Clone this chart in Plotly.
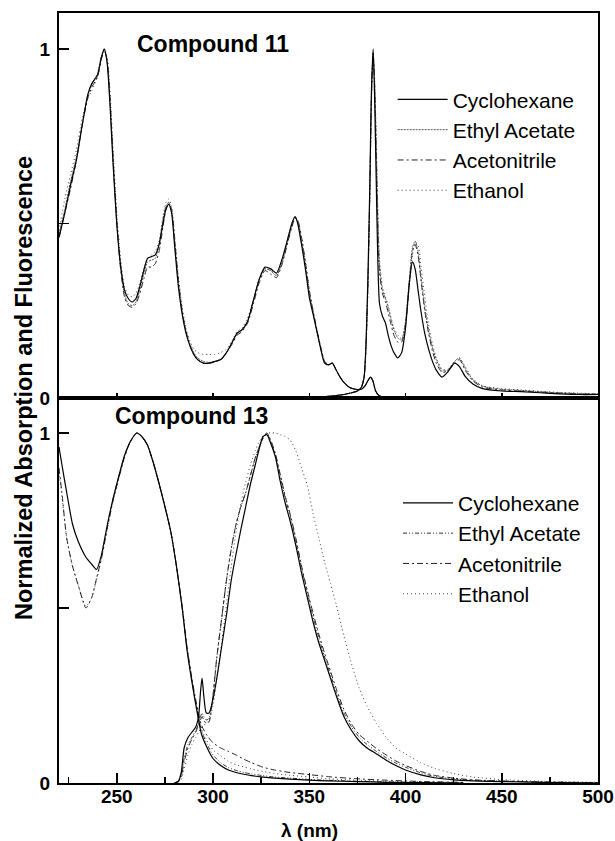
import plotly.graph_objects as go

# ---------------- data: Compound 11 ----------------
solvents = ["Cyclohexane", "Ethyl Acetate", "Acetonitrile", "Ethanol"]

c11_abs_wl = [220, 223, 226, 229, 232, 235, 237, 240, 242, 243.5, 245, 246.5, 248, 250, 252, 254, 256, 258,
              260, 262, 264, 266, 268, 270, 272, 274, 275.5, 277, 278.5, 280, 282, 284, 286, 288, 290, 292,
              295, 298, 301, 304, 307, 310, 312.5, 315, 318, 321, 324, 327, 330, 333, 336, 339, 341, 342.6,
              344, 346, 348, 350, 352, 354, 356, 358, 360, 362, 364, 366, 368, 371, 374, 377, 379, 380.5,
              381.8, 383, 384.5, 386, 388, 390]
c11_abs_cyc = [0.46, 0.53, 0.61, 0.68, 0.78, 0.87, 0.90, 0.925, 0.975, 1.0, 0.96, 0.84, 0.68, 0.50, 0.38, 0.31, 0.285, 0.275,
               0.285, 0.32, 0.365, 0.40, 0.405, 0.41, 0.44, 0.50, 0.54, 0.555, 0.53, 0.44, 0.32, 0.24, 0.185, 0.15, 0.125, 0.11,
               0.10, 0.10, 0.105, 0.11, 0.13, 0.16, 0.186, 0.195, 0.22, 0.28, 0.34, 0.375, 0.37, 0.358, 0.40, 0.46, 0.50, 0.52,
               0.50, 0.44, 0.37, 0.29, 0.24, 0.19, 0.14, 0.10, 0.095, 0.10, 0.08, 0.06, 0.045, 0.03, 0.025, 0.025, 0.035, 0.05,
               0.06, 0.05, 0.02, 0.008, 0.003, 0.0]
c11_abs_eta = [0.47, 0.54, 0.62, 0.69, 0.78, 0.87, 0.90, 0.93, 0.98, 1.0, 0.965, 0.85, 0.69, 0.50, 0.37, 0.30, 0.27, 0.265,
               0.275, 0.31, 0.355, 0.39, 0.395, 0.40, 0.44, 0.51, 0.55, 0.56, 0.535, 0.45, 0.33, 0.245, 0.19, 0.155, 0.13, 0.115,
               0.105, 0.102, 0.105, 0.11, 0.13, 0.16, 0.185, 0.195, 0.22, 0.28, 0.34, 0.37, 0.365, 0.35, 0.39, 0.46, 0.50, 0.52,
               0.505, 0.45, 0.38, 0.30, 0.245, 0.19, 0.14, 0.10, 0.095, 0.10, 0.08, 0.06, 0.045, 0.03, 0.025, 0.025, 0.035, 0.05,
               0.06, 0.05, 0.02, 0.008, 0.003, 0.0]
c11_abs_acn = [0.46, 0.53, 0.60, 0.68, 0.78, 0.86, 0.89, 0.92, 0.97, 0.995, 0.97, 0.86, 0.70, 0.51, 0.37, 0.29, 0.265, 0.26,
               0.27, 0.30, 0.34, 0.375, 0.375, 0.385, 0.42, 0.49, 0.54, 0.56, 0.54, 0.46, 0.34, 0.25, 0.19, 0.15, 0.125, 0.11,
               0.10, 0.10, 0.103, 0.11, 0.13, 0.155, 0.18, 0.19, 0.215, 0.27, 0.33, 0.365, 0.355, 0.345, 0.385, 0.45, 0.49, 0.515,
               0.51, 0.46, 0.39, 0.31, 0.25, 0.195, 0.145, 0.105, 0.095, 0.10, 0.08, 0.06, 0.045, 0.03, 0.025, 0.025, 0.035, 0.05,
               0.06, 0.05, 0.02, 0.008, 0.003, 0.0]
c11_abs_eth = [0.48, 0.57, 0.64, 0.71, 0.80, 0.86, 0.88, 0.92, 0.97, 0.99, 0.975, 0.88, 0.72, 0.53, 0.40, 0.32, 0.295, 0.29,
               0.30, 0.33, 0.37, 0.40, 0.41, 0.42, 0.45, 0.52, 0.56, 0.57, 0.55, 0.47, 0.35, 0.26, 0.20, 0.165, 0.14, 0.13,
               0.125, 0.125, 0.125, 0.13, 0.14, 0.165, 0.19, 0.20, 0.23, 0.28, 0.34, 0.37, 0.365, 0.355, 0.39, 0.45, 0.49, 0.515,
               0.51, 0.46, 0.39, 0.31, 0.25, 0.195, 0.145, 0.105, 0.095, 0.10, 0.08, 0.06, 0.045, 0.03, 0.025, 0.025, 0.035, 0.05,
               0.06, 0.05, 0.02, 0.008, 0.003, 0.0]

c11_em_wl = [350, 360, 368, 372, 375, 377, 378.5, 379.5, 380.5, 381.5, 382.3, 383.2, 384, 384.8, 385.6, 386.5, 388,
             389.6, 391, 392.5, 394, 396, 398, 400, 402, 403.6, 405, 406.5, 408, 410, 412, 414, 416, 419, 422, 425.5,
             428, 431, 435, 440, 450, 460, 470, 480, 490, 500]
c11_em_cyc = [0.0, 0.005, 0.01, 0.015, 0.02, 0.03, 0.06, 0.16, 0.35, 0.62, 0.88, 1.0, 0.85, 0.62, 0.40, 0.27, 0.235,
              0.215, 0.18, 0.15, 0.13, 0.115, 0.13, 0.20, 0.33, 0.39, 0.37, 0.31, 0.25, 0.185, 0.14, 0.105, 0.08, 0.06, 0.075, 0.10,
              0.09, 0.062, 0.04, 0.027, 0.02, 0.018, 0.015, 0.012, 0.01, 0.01]
c11_em_eta = [0.0, 0.005, 0.01, 0.015, 0.02, 0.03, 0.06, 0.15, 0.33, 0.60, 0.86, 0.99, 0.90, 0.72, 0.52, 0.38, 0.31,
              0.285, 0.26, 0.225, 0.195, 0.172, 0.166, 0.22, 0.34, 0.43, 0.45, 0.42, 0.35, 0.26, 0.195, 0.145, 0.11, 0.078, 0.08, 0.105,
              0.115, 0.085, 0.052, 0.034, 0.025, 0.022, 0.018, 0.015, 0.013, 0.012]
c11_em_acn = [0.0, 0.005, 0.01, 0.015, 0.02, 0.03, 0.06, 0.15, 0.33, 0.60, 0.86, 0.99, 0.89, 0.70, 0.50, 0.36, 0.30,
              0.275, 0.245, 0.21, 0.18, 0.16, 0.16, 0.21, 0.33, 0.42, 0.44, 0.41, 0.34, 0.25, 0.185, 0.135, 0.10, 0.073, 0.078, 0.10,
              0.11, 0.08, 0.049, 0.031, 0.023, 0.02, 0.017, 0.014, 0.012, 0.011]
c11_em_eth = [0.0, 0.005, 0.01, 0.015, 0.02, 0.03, 0.06, 0.14, 0.31, 0.58, 0.84, 0.98, 0.91, 0.74, 0.55, 0.40, 0.32,
              0.29, 0.265, 0.23, 0.20, 0.18, 0.17, 0.21, 0.32, 0.41, 0.445, 0.44, 0.38, 0.29, 0.21, 0.155, 0.115, 0.082, 0.083, 0.105,
              0.115, 0.09, 0.055, 0.035, 0.027, 0.023, 0.019, 0.016, 0.014, 0.012]

# ---------------- data: Compound 13 ----------------
c13_abs_wl = [220, 221.5, 224, 227, 230, 234, 237, 239.5, 242, 245, 248, 251, 254, 257, 260.4, 263, 266, 269, 272,
              275, 278, 281, 284, 286.5, 289, 291.5, 294, 297, 300, 304, 308, 312, 316, 320, 326, 332, 340, 350, 360,
              375, 390, 410, 430]
c13_abs_cyc = [0.96, 0.91, 0.83, 0.74, 0.69, 0.645, 0.625, 0.61, 0.65, 0.735, 0.81, 0.875, 0.935, 0.975, 1.0, 0.99, 0.965, 0.915, 0.855,
               0.79, 0.72, 0.62, 0.50, 0.38, 0.29, 0.21, 0.14, 0.10, 0.07, 0.05, 0.037, 0.03, 0.025, 0.021, 0.017, 0.014, 0.011, 0.008, 0.006,
               0.004, 0.002, 0.001, 0.0]
c13_abs_eta = [None, None, None, None, None, None, None, None, None, None, 0.81, 0.875, 0.935, 0.975, 1.0, 0.99, 0.965, 0.915, 0.855,
               0.79, 0.72, 0.62, 0.50, 0.385, 0.295, 0.215, 0.15, 0.11, 0.08, 0.058, 0.044, 0.036, 0.03, 0.026, 0.021, 0.017, 0.014, 0.01, 0.008,
               0.005, 0.003, 0.002, 0.001]
c13_abs_acn = [0.90, 0.83, 0.70, 0.62, 0.565, 0.50, 0.53, 0.585, 0.64, 0.725, 0.805, 0.87, 0.93, 0.975, 1.0, 0.99, 0.965, 0.915, 0.855,
               0.79, 0.72, 0.62, 0.505, 0.39, 0.30, 0.225, 0.165, 0.135, 0.115, 0.10, 0.09, 0.08, 0.068, 0.058, 0.045, 0.037, 0.03, 0.024, 0.018,
               0.012, 0.008, 0.004, 0.002]
c13_abs_eth = [0.89, 0.82, 0.70, 0.62, 0.565, 0.505, 0.53, 0.58, 0.64, 0.725, 0.805, 0.87, 0.93, 0.975, 1.0, 0.99, 0.965, 0.915, 0.855,
               0.79, 0.72, 0.62, 0.50, 0.385, 0.295, 0.215, 0.155, 0.12, 0.095, 0.078, 0.062, 0.052, 0.046, 0.04, 0.033, 0.027, 0.022, 0.017, 0.012,
               0.008, 0.005, 0.003, 0.001]

c13_em_wl = [280, 282, 283.5, 285, 287, 289, 291, 292.5, 293.5, 294.3, 295.2, 296.5, 298, 300, 302, 304.5, 307, 309.5,
             312, 314.5, 317, 319.5, 322, 324, 326, 328, 330, 332.5, 335, 337.5, 340, 343, 346, 349, 352, 355, 358, 361,
             364, 368, 372, 376, 380, 385, 390, 395, 400, 408, 415, 425, 435, 450, 470, 500]
c13_em_cyc = [0.0, 0.005, 0.03, 0.10, 0.13, 0.145, 0.16, 0.19, 0.26, 0.30, 0.25, 0.20, 0.20, 0.24, 0.30, 0.39, 0.48, 0.58,
              0.655, 0.725, 0.79, 0.855, 0.91, 0.955, 0.99, 0.995, 0.97, 0.93, 0.86, 0.80, 0.75, 0.68, 0.60, 0.53, 0.46, 0.40, 0.35, 0.30,
              0.25, 0.19, 0.15, 0.12, 0.10, 0.083, 0.065, 0.05, 0.037, 0.023, 0.015, 0.009, 0.006, 0.004, 0.002, 0.0]
c13_em_eta = [0.0, 0.005, 0.02, 0.07, 0.11, 0.13, 0.15, 0.17, 0.19, 0.20, 0.19, 0.18, 0.185, 0.25, 0.36, 0.47, 0.58, 0.67,
              0.74, 0.79, 0.83, 0.88, 0.93, 0.96, 0.985, 1.0, 0.975, 0.935, 0.875, 0.815, 0.765, 0.695, 0.615, 0.545, 0.475, 0.415, 0.36, 0.31,
              0.26, 0.20, 0.16, 0.13, 0.11, 0.09, 0.072, 0.057, 0.045, 0.029, 0.019, 0.012, 0.008, 0.005, 0.003, 0.001]
c13_em_acn = [0.0, 0.005, 0.02, 0.06, 0.10, 0.125, 0.145, 0.165, 0.18, 0.19, 0.18, 0.17, 0.175, 0.25, 0.36, 0.47, 0.58, 0.67,
              0.74, 0.79, 0.83, 0.88, 0.93, 0.96, 0.985, 1.0, 0.98, 0.94, 0.88, 0.82, 0.77, 0.70, 0.62, 0.55, 0.485, 0.425, 0.37, 0.32,
              0.27, 0.21, 0.168, 0.138, 0.12, 0.098, 0.08, 0.063, 0.05, 0.033, 0.022, 0.014, 0.009, 0.006, 0.003, 0.001]
c13_em_eth = [0.0, 0.003, 0.01, 0.04, 0.08, 0.11, 0.13, 0.145, 0.155, 0.16, 0.165, 0.17, 0.18, 0.22, 0.30, 0.40, 0.51, 0.62,
              0.72, 0.80, 0.86, 0.91, 0.95, 0.975, 0.99, 1.0, 1.0, 1.0, 0.995, 0.99, 0.98, 0.95, 0.90, 0.85, 0.77, 0.70, 0.63, 0.57,
              0.51, 0.42, 0.34, 0.27, 0.22, 0.17, 0.13, 0.10, 0.083, 0.058, 0.042, 0.027, 0.017, 0.01, 0.005, 0.002]

x_tick_vals = [250, 300, 350, 400, 450, 500]
x_tick_text = ["250", "300", "350", "400", "450", "500"]
x_minor_vals = [225, 275, 325, 375, 425, 475]
y_tick_vals = [0, 0.5, 1]
y_tick_text = ["0", "", "1"]

# ---------------- styles ----------------
styles = {
    "Cyclohexane": dict(color="#000000", width=1.2, dash="solid"),
    "Ethyl Acetate": dict(color="#555555", width=1.0, dash="2px,1px"),
    "Acetonitrile": dict(color="#222222", width=1.0, dash="6px,3px,2px,3px"),
    "Ethanol": dict(color="#444444", width=1.0, dash="1px,3px"),
}
styles13 = dict(styles)
styles13["Ethyl Acetate"] = dict(color="#333333", width=1.0, dash="4px,2px,1px,2px,1px,2px")
ranks = {"Cyclohexane": 1, "Ethyl Acetate": 2, "Acetonitrile": 3, "Ethanol": 4}

FONT = "Liberation Sans, Arial, sans-serif"

fig = go.Figure()

top_sets = [
    ("Cyclohexane", c11_abs_cyc, c11_em_cyc),
    ("Ethyl Acetate", c11_abs_eta, c11_em_eta),
    ("Acetonitrile", c11_abs_acn, c11_em_acn),
    ("Ethanol", c11_abs_eth, c11_em_eth),
]
bot_sets = [
    ("Cyclohexane", c13_abs_cyc, c13_em_cyc),
    ("Ethyl Acetate", c13_abs_eta, c13_em_eta),
    ("Acetonitrile", c13_abs_acn, c13_em_acn),
    ("Ethanol", c13_abs_eth, c13_em_eth),
]

for name, ab, em in reversed(top_sets):
    st = styles[name]
    fig.add_trace(go.Scatter(x=c11_abs_wl, y=ab, mode="lines", line=dict(shape="spline", smoothing=0.6, **st),
                             name=name, legend="legend", legendgroup="t" + name, showlegend=True,
                             legendrank=ranks[name], xaxis="x", yaxis="y"))
    fig.add_trace(go.Scatter(x=c11_em_wl, y=em, mode="lines", line=dict(shape="spline", smoothing=0.6, **st),
                             name=name, legendgroup="t" + name, showlegend=False, xaxis="x", yaxis="y"))

for name, ab, em in reversed(bot_sets):
    st = styles13[name]
    fig.add_trace(go.Scatter(x=c13_abs_wl, y=ab, mode="lines", line=dict(shape="spline", smoothing=0.6, **st),
                             name=name, legend="legend2", legendgroup="b" + name, showlegend=True,
                             legendrank=ranks[name], xaxis="x2", yaxis="y2"))
    fig.add_trace(go.Scatter(x=c13_em_wl, y=em, mode="lines", line=dict(shape="spline", smoothing=0.6, **st),
                             name=name, legendgroup="b" + name, showlegend=False, xaxis="x2", yaxis="y2"))

axis_common = dict(showline=True, linecolor="black", linewidth=2, mirror=True, showgrid=False, zeroline=False)
tick_font = dict(family=FONT, size=19, color="black", weight="bold")

fig.update_layout(
    width=615, height=841,
    margin=dict(l=59, r=17, t=13, b=58, autoexpand=False),
    paper_bgcolor="white", plot_bgcolor="white",
    font=dict(family=FONT, color="black"),
    hovermode=False,
    xaxis=dict(domain=[0, 1], range=[220, 500], anchor="y", tickvals=x_tick_vals, showticklabels=False,
               ticks="inside", ticklen=5, tickwidth=1.5, tickcolor="black", **axis_common),
    yaxis=dict(domain=[0.5, 1], range=[0, 1.103], anchor="x", tickvals=y_tick_vals, ticktext=y_tick_text,
               ticks="inside", ticklen=10, tickwidth=1.5, tickcolor="black", tickfont=tick_font,
               ticklabelstandoff=3, **axis_common),
    xaxis2=dict(domain=[0, 1], range=[220, 500], anchor="y2", tickvals=x_tick_vals, ticktext=x_tick_text,
                ticks="inside", ticklen=10, tickwidth=1.5, tickcolor="black", tickfont=tick_font,
                ticklabelstandoff=-5,
                minor=dict(tickvals=x_minor_vals, ticks="inside", ticklen=6, tickwidth=1.5, tickcolor="black"),
                **axis_common),
    yaxis2=dict(domain=[0, 0.5], range=[0, 1.1], anchor="x2", tickvals=y_tick_vals, ticktext=y_tick_text,
                ticks="inside", ticklen=10, tickwidth=1.5, tickcolor="black", tickfont=tick_font,
                ticklabelstandoff=3, **axis_common),
    legend=dict(x=0.619, y=0.914, xanchor="left", yanchor="top", bgcolor="rgba(0,0,0,0)",
                font=dict(family=FONT, size=21, color="black"), itemwidth=50, tracegroupgap=0),
    legend2=dict(x=0.629, y=0.39, xanchor="left", yanchor="top", bgcolor="rgba(0,0,0,0)",
                 font=dict(family=FONT, size=21, color="black"), itemwidth=50, tracegroupgap=0),
    annotations=[
        dict(text="Compound 11", x=0.285, y=0.960, xref="paper", yref="paper", showarrow=False,
             font=dict(family=FONT, size=23, weight="bold"), xanchor="center", yanchor="middle"),
        dict(text="Compound 13", x=0.245, y=0.477, xref="paper", yref="paper", showarrow=False,
             font=dict(family=FONT, size=23, weight="bold"), xanchor="center", yanchor="middle"),
        dict(text="Normalized Absorption and Fluorescence", x=-0.065, y=0.513, xref="paper", yref="paper",
             showarrow=False, textangle=-90, font=dict(family=FONT, size=23.5, weight="bold"),
             xanchor="center", yanchor="middle"),
        dict(text="λ (nm)", x=0.464, y=-0.062, xref="paper", yref="paper", showarrow=False,
             font=dict(family=FONT, size=19, weight="bold"), xanchor="center", yanchor="middle"),
    ],
)

# remove the browser's default page margin so the 615x841 figure fills the window exactly
fig.write_html("out.html", config={"displayModeBar": False, "staticPlot": True},
               post_script="document.body.style.margin='0px';document.body.style.overflow='hidden';")
